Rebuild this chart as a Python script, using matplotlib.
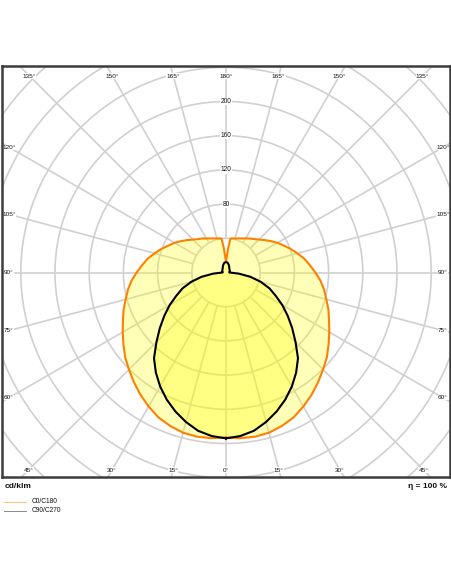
import numpy as np
import matplotlib
matplotlib.use("Agg")
import matplotlib.pyplot as plt
from matplotlib.patches import Circle
from matplotlib.lines import Line2D

plt.rcParams['font.family'] = ['Liberation Sans', 'DejaVu Sans']

# ---- data (cd/klm vs gamma angle in degrees, 0 = straight down) ----
gamma_c0 = [0, 5, 10, 15, 20, 25, 30, 35, 40, 45, 50, 55, 60, 65, 70, 75, 80, 85,
            90, 95, 100, 105, 110, 115, 120, 125, 130, 135, 140, 145, 150, 155,
            160, 165, 170, 172.5, 175, 177.5, 180]
cd_c0 = [193, 194.5, 195, 194, 191, 187, 181, 174.5, 167.5, 160.5, 154, 146.5,
         139.5, 133, 127.5, 121.5, 116.5, 111, 104.5, 98.5, 93, 86.5, 80.5, 74.5,
         69.5, 64, 59, 54.5, 51, 48.5, 46, 44, 42.4, 41.2, 40.5, 40, 28, 17, 12.8]

gamma_c90 = [0, 5, 10, 15, 20, 25, 30, 35, 40, 45, 50, 55, 60, 65, 70, 75, 80, 85,
             90, 95, 100, 110, 120, 130, 140, 150, 160, 170, 175, 180]
cd_c90 = [194, 192, 188, 181, 173, 164, 154, 143, 131, 115, 101, 88, 76, 64, 54,
          42, 29, 15, 4, 3.8, 4, 4.5, 5, 5.5, 6, 7.5, 9.5, 11.5, 12, 12]

ring_values = list(range(40, 441, 40))
ring_labels = [80, 120, 160, 200]
angle_labels = list(range(0, 181, 15))
legend_labels = ["C0/C180", "C90/C270"]
unit_label = "cd/klm"
eff_label = "η = 100 %"

# ---- layout ----
W, H = 452, 584
fig = plt.figure(figsize=(W / 100, H / 100), dpi=100)
fx0, fx1, fy0, fy1 = 2, 450, 66, 477
cx, cy = 226, 272.5
s = 0.855  # px per cd

ax = fig.add_axes([fx0 / W, 1 - fy1 / H, (fx1 - fx0) / W, (fy1 - fy0) / H])
ax.set_xlim((fx0 - cx) / s, (fx1 - cx) / s)
ax.set_ylim((cy - fy1) / s, (cy - fy0) / s)
ax.set_xticks([])
ax.set_yticks([])
for sp in ax.spines.values():
    sp.set_color('#3c3c3c')
    sp.set_linewidth(1.8)
    sp.set_zorder(10)

grid_col = '#d0d0d0'
for r in ring_values:
    ax.add_patch(Circle((0, 0), r, fill=False, ec=grid_col, lw=1.2, zorder=1))
for g in range(0, 360, 15):
    t = np.radians(g)
    ax.plot([40 * np.sin(t), 500 * np.sin(t)], [-40 * np.cos(t), -500 * np.cos(t)],
            color=grid_col, lw=1.2, zorder=1, solid_capstyle='butt')


def closed(gam, vals):
    g = np.radians(np.asarray(gam, float))
    v = np.asarray(vals, float)
    xr, yr = v * np.sin(g), -v * np.cos(g)
    x = np.concatenate([xr, -xr[::-1]])
    y = np.concatenate([yr, yr[::-1]])
    return x, y


xo, yo = closed(gamma_c0, cd_c0)
xb, yb = closed(gamma_c90, cd_c90)
ax.fill(xo, yo, color=(1, 1, 0), alpha=0.28, lw=0, zorder=2)
ax.fill(xb, yb, color=(1, 1, 0), alpha=0.28, lw=0, zorder=2)
ax.plot(xo, yo, color='#ff8000', lw=1.5, zorder=4, solid_joinstyle='round')
ax.plot(xb, yb, color='black', lw=1.5, zorder=5, solid_joinstyle='round')

# ring labels
for r in ring_labels:
    ax.text(0, r, str(r), ha='center', va='center', fontsize=4.7, zorder=6,
            color='#111111', bbox=dict(fc='white', ec='none', pad=0.2))

# angle labels along an inset rectangle
top_i = (cy - 76) / s
bot_i = (470 - cy) / s
side_i = (cx - 9) / s
for a in angle_labels:
    t = np.radians(a)
    sides = [1, -1] if 0 < a < 180 else [1]
    for sg in sides:
        dx, dy = np.sin(t) * sg, -np.cos(t)
        cands = []
        if abs(dx) > 1e-9:
            cands.append(side_i / abs(dx))
        if dy > 1e-9:
            cands.append(top_i / dy)
        elif dy < -1e-9:
            cands.append(bot_i / -dy)
        d = min(cands)
        ax.text(dx * d, dy * d, f"{a}°", ha='center', va='center', fontsize=4.6,
                color='#111111', zorder=6, bbox=dict(fc='white', ec='none', pad=0.1))

# texts below
fig.text(5 / W, 1 - 486.5 / H, unit_label, fontsize=6, ha='left', va='center',
         color='#111111', fontweight='bold')
fig.text(447 / W, 1 - 487 / H, eff_label, fontsize=6, ha='right', va='center',
         color='#111111', fontweight='bold')

leg_cols = ['#ffbf70', '#8a8a8a']
leg_y = [501.5, 510.5]
for lab, col, yy in zip(legend_labels, leg_cols, leg_y):
    fig.add_artist(Line2D([4 / W, 26 / W], [1 - yy / H] * 2, color=col, lw=0.7,
                          transform=fig.transFigure))
    fig.text(32 / W, 1 - yy / H, lab, fontsize=4.8, ha='left', va='center',
             color='#111111')

fig.savefig('out.png', dpi=100)
